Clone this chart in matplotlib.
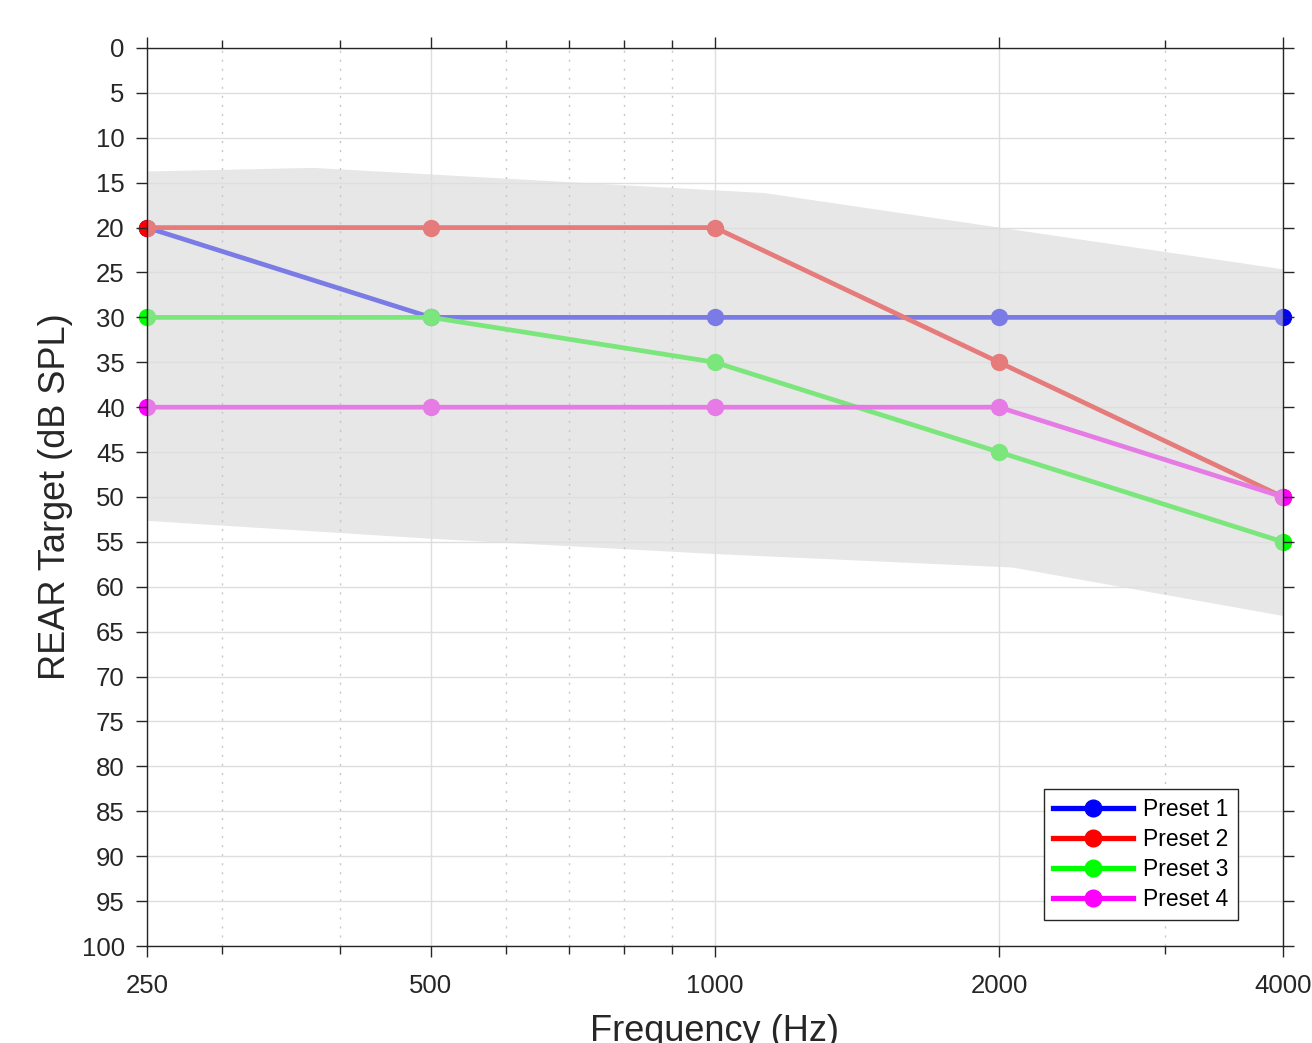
import numpy as np
import matplotlib.pyplot as plt
from matplotlib.lines import Line2D
from matplotlib.patches import Rectangle
from matplotlib.ticker import FixedLocator, NullFormatter

plt.rcParams['font.family'] = ['Liberation Sans', 'DejaVu Sans']

# data
freqs = [250, 500, 1000, 2000, 4000]
preset1 = [20, 30, 30, 30, 30]
preset2 = [20, 20, 20, 35, 50]
preset3 = [30, 30, 35, 45, 55]
preset4 = [40, 40, 40, 40, 50]
labels = ['Preset 1', 'Preset 2', 'Preset 3', 'Preset 4']

# shaded target range
bandTopF = [250, 375, 1127, 4000]
bandTop = [13.7, 13.3, 16.1, 24.6]
bandBotF = [250, 500, 1000, 2065, 4000]
bandBot = [52.6, 54.6, 56.3, 57.8, 63.2]

solid = ['#0000ff', '#ff0000', '#00ff00', '#ff00ff']
faded = ['#7b7be6', '#e67b7b', '#7be67b', '#e67be6']

fig = plt.figure(figsize=(13.12, 10.43), dpi=100)
ax = fig.add_axes([0.1120, 0.0930, 0.8659, 0.8610])

ax.set_xscale('log')
ax.set_xlim(250, 4000)
ax.set_ylim(100, 0)

# band polygon on a common frequency grid
bx = np.unique(np.concatenate([bandTopF, bandBotF]))
top = np.interp(np.log(bx), np.log(bandTopF), bandTop)
bot = np.interp(np.log(bx), np.log(bandBotF), bandBot)

# solid end markers show outside the axes box, a white cover hides the inner half
series = [preset1, preset2, preset3, preset4]
for vals, c in zip(series, solid):
    ax.plot([freqs[0], freqs[-1]], [vals[0], vals[-1]], 'o', color=c,
            markersize=11.5, clip_on=False, zorder=0.1)
ax.add_patch(Rectangle((0, 0), 1, 1, transform=ax.transAxes,
                       facecolor='white', edgecolor='none', zorder=0.2))
ax.fill_between(bx, top, bot, color='#e7e7e7', linewidth=0, zorder=0.3)

for vals, c in zip(series, faded):
    ax.plot(freqs, vals, '-o', color=c, linewidth=3.4, markersize=11.5, zorder=2)

ax.xaxis.set_major_locator(FixedLocator(freqs))
ax.set_xticklabels([str(f) for f in freqs])
ax.xaxis.set_minor_formatter(NullFormatter())
ax.set_yticks(np.arange(0, 101, 5))

ax.set_axisbelow(True)
ax.grid(True, which='major', color='#dedede', linewidth=1.0, linestyle='-')
ax.grid(True, which='minor', axis='x', color='#c8c8c8', linewidth=1.0,
        linestyle=(0, (1.5, 5)))

ax.tick_params(which='both', direction='out', top=True, right=True,
               colors='#262626', width=1.0, labelsize=18.5)
ax.tick_params(which='major', length=8)
ax.tick_params(which='minor', length=6)
ax.tick_params(axis='x', pad=12)
ax.tick_params(axis='y', pad=8)
for s in ax.spines.values():
    s.set_color('#262626')
    s.set_linewidth(1.0)

ax.set_xlabel('Frequency (Hz)', fontsize=26, color='#262626', labelpad=12)
ax.set_ylabel('REAR Target (dB SPL)', fontsize=26, color='#262626', labelpad=6)

handles = [Line2D([], [], color=c, linewidth=3.8, marker='o', markersize=12)
           for c in solid]
leg = ax.legend(handles, labels, loc='lower right', bbox_to_anchor=(0.9604, 0.029),
                borderaxespad=0, fontsize=16.5, fancybox=False, framealpha=1,
                edgecolor='#262626', handlelength=3.5, labelspacing=0.3,
                handletextpad=0.45, borderpad=0.4)
leg.get_frame().set_linewidth(1.0)
leg.set_zorder(5)

fig.savefig('out.png', dpi=100)
